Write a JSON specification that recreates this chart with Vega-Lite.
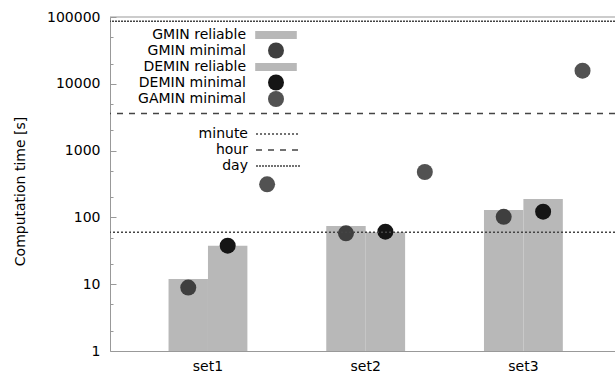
{
  "$schema": "https://vega.github.io/schema/vega-lite/v6.json",
  "autosize": {"type": "none"},
  "padding": {"left": 110, "top": 17, "right": 0, "bottom": 23},
  "width": 505,
  "height": 334,
  "config": {
    "font": "DejaVu Sans",
    "view": {"stroke": null},
    "axis": {
      "labelFont": "DejaVu Sans",
      "titleFont": "DejaVu Sans",
      "labelFontSize": 14,
      "titleFontSize": 14,
      "labelColor": "#000",
      "titleColor": "#000",
      "titleFontWeight": "normal",
      "domainColor": "#999",
      "tickColor": "#999",
      "grid": false
    },
    "legend": {"labelFont": "DejaVu Sans", "labelFontSize": 14, "labelColor": "#000"}
  },
  "datasets": {
    "runs": [
      {"set": "set1", "group": "GMIN", "kind": "reliable", "series": "GMIN reliable", "value": 12.0},
      {"set": "set1", "group": "DEMIN", "kind": "reliable", "series": "DEMIN reliable", "value": 37.7},
      {"set": "set2", "group": "GMIN", "kind": "reliable", "series": "GMIN reliable", "value": 74.3},
      {"set": "set2", "group": "DEMIN", "kind": "reliable", "series": "DEMIN reliable", "value": 59.8},
      {"set": "set3", "group": "GMIN", "kind": "reliable", "series": "GMIN reliable", "value": 129},
      {"set": "set3", "group": "DEMIN", "kind": "reliable", "series": "DEMIN reliable", "value": 188},
      {"set": "set1", "group": "GMIN", "kind": "minimal", "series": "GMIN minimal", "value": 8.9},
      {"set": "set1", "group": "DEMIN", "kind": "minimal", "series": "DEMIN minimal", "value": 37.7},
      {"set": "set1", "group": "GAMIN", "kind": "minimal", "series": "GAMIN minimal", "value": 313},
      {"set": "set2", "group": "GMIN", "kind": "minimal", "series": "GMIN minimal", "value": 57.8},
      {"set": "set2", "group": "DEMIN", "kind": "minimal", "series": "DEMIN minimal", "value": 61.1},
      {"set": "set2", "group": "GAMIN", "kind": "minimal", "series": "GAMIN minimal", "value": 478},
      {"set": "set3", "group": "GMIN", "kind": "minimal", "series": "GMIN minimal", "value": 102},
      {"set": "set3", "group": "DEMIN", "kind": "minimal", "series": "DEMIN minimal", "value": 122},
      {"set": "set3", "group": "GAMIN", "kind": "minimal", "series": "GAMIN minimal", "value": 15700}
    ],
    "limits": [
      {"name": "minute", "value": 60},
      {"name": "hour", "value": 3600},
      {"name": "day", "value": 86400}
    ]
  },
  "layer": [
    {
      "data": {"name": "runs"},
      "transform": [{"filter": "datum.kind === 'reliable'"}],
      "mark": {"type": "bar"},
      "encoding": {
        "x": {"field": "set", "type": "nominal", "scale": {"paddingInner": 0, "paddingOuter": 0.101, "align": 0.6}, "axis": {"title": null, "labelAngle": 0, "ticks": false, "labelPadding": 8}},
        "xOffset": {"field": "group", "type": "nominal", "scale": {"domain": ["_", "GMIN", "DEMIN", "GAMIN"], "paddingInner": 0, "paddingOuter": 0}},
        "y": {"field": "value", "type": "quantitative", "scale": {"type": "log", "domain": [1, 100000], "nice": false},
              "axis": {"title": "Computation time [s]",
                       "values": [1, 2, 5, 10, 20, 50, 100, 200, 500, 1000, 2000, 5000, 10000, 20000, 50000, 100000],
                       "labelExpr": "indexof([1, 10, 100, 1000, 10000, 100000], datum.value) >= 0 ? format(datum.value, 'd') : ''",
                       "tickSize": {"condition": {"test": "indexof([1, 10, 100, 1000, 10000, 100000], datum.value) >= 0", "value": -6}, "value": -3},
                       "labelPadding": 16, "titleX": -90, "titleY": 174, "titleBaseline": "middle", "titleAngle": -90}},
        "y2": {"datum": 1},
        "color": {"field": "series", "type": "nominal",
          "scale": {"domain": ["GMIN reliable", "GMIN minimal", "DEMIN reliable", "DEMIN minimal", "GAMIN minimal"], "range": ["#b8b8b8", "#3f3f3f", "#b8b8b8", "#151515", "#525252"]},
          "legend": {"title": null, "orient": "none", "legendX": 158, "legendY": 10, "symbolSize": 256, "labelAlign": "right", "labelOffset": -38, "rowPadding": 0.5, "symbolStrokeWidth": 0, "symbolOpacity": 1,
            "encode": {"symbols": {"update": {
              "shape": {"signal": "indexof(datum.value, 'reliable') >= 0 ? 'M-2.6,-0.5H2.6V0.5H-2.6Z' : 'circle'"},
              "fill": {"scale": "color", "field": "value"}}}}}}
      }
    },
    {
      "data": {"name": "runs"},
      "transform": [{"filter": "datum.kind === 'minimal'"}],
      "mark": {"type": "circle", "size": 256, "opacity": 1},
      "encoding": {
        "x": {"field": "set", "type": "nominal"},
        "xOffset": {"field": "group", "type": "nominal"},
        "y": {"field": "value", "type": "quantitative"},
        "color": {"field": "series", "type": "nominal"}
      }
    },
    {
      "data": {"name": "limits"},
      "mark": {"type": "rule", "color": "#444", "strokeWidth": 1.5},
      "encoding": {
        "y": {"field": "value", "type": "quantitative"},
        "strokeDash": {"field": "name", "type": "nominal",
          "scale": {"domain": ["minute", "hour", "day"], "range": [[2, 2], [6, 6], [2, 1]]},
          "legend": {"title": null, "orient": "none", "legendX": 159, "legendY": 108, "symbolType": "M-2.75,0H2.75", "symbolSize": 256, "symbolStrokeWidth": 1.5, "symbolStrokeColor": "#444", "symbolFillColor": "transparent", "labelAlign": "right", "labelOffset": -39, "rowPadding": 0}}
      }
    },
    {
      "data": {"values": [{"edge": "top"}]},
      "mark": {"type": "rule", "color": "#999", "strokeWidth": 1},
      "encoding": {"y": {"datum": 100000}}
    }
  ]
}
